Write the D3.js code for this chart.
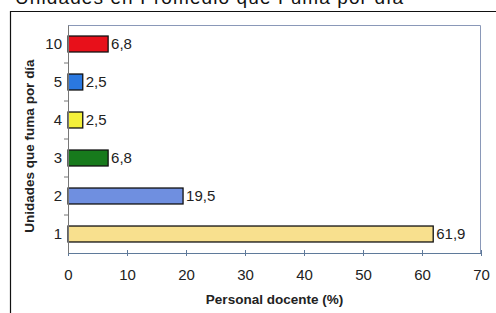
<!DOCTYPE html>
<html>
<head>
<meta charset="utf-8">
<script src="https://cdn.jsdelivr.net/npm/d3@7"></script>
<style>
  body { margin: 0; background: #fff; }
  text { font-family: Arial, "Liberation Sans", sans-serif; }
</style>
</head>
<body>
<div id="chart"></div>
<script>
// Chart data
var categories = ["10", "5", "4", "3", "2", "1"];
var values = [6.8, 2.5, 2.5, 6.8, 19.5, 61.9];
var valueLabels = ["6,8", "2,5", "2,5", "6,8", "19,5", "61,9"];
var barColors = ["#e8101a", "#2a78e0", "#f4f03a", "#177a1c", "#6f8fe0", "#f8e08e"];
var xTicks = [0, 10, 20, 30, 40, 50, 60, 70];

var svgWidth = 496;
var svgHeight = 313;
var margin = { top: 25, right: 15, bottom: 60, left: 68 };
var width = svgWidth - margin.left - margin.right;
var height = svgHeight - margin.top - margin.bottom;

var svg = d3.select("#chart")
    .append("svg")
    .attr("width", svgWidth)
    .attr("height", svgHeight);

// outer frame (top + left line)
svg.append("path")
    .attr("d", "M10.5,313 V11.5 H496")
    .attr("fill", "none")
    .attr("stroke", "#111")
    .attr("stroke-width", 1.2);

// cut-off title at top
svg.append("text")
    .attr("x", 15)
    .attr("y", 4)
    .attr("font-size", 19)
    .attr("fill", "#111")
    .attr("textLength", 388)
    .text("Unidades en Promedio que Fuma por día");

var chart = svg.append("g")
    .attr("transform", `translate(${margin.left}, ${margin.top})`);

var xScale = d3.scaleLinear().domain([0, 70]).range([0, width]);
var yScale = d3.scaleBand().domain(categories).range([0, height]).paddingInner(0.58).paddingOuter(0.29);

// plot area border (top + right)
chart.append("path")
    .attr("d", `M0,0.5 H${width - 0.5} V${height}`)
    .attr("fill", "none")
    .attr("stroke", "#8a98b8")
    .attr("stroke-width", 1);

// bars
chart.selectAll("rect.bar")
    .data(values)
    .enter()
    .append("rect")
    .attr("class", "bar")
    .attr("x", 0)
    .attr("y", (d, i) => yScale(categories[i]))
    .attr("width", d => xScale(d))
    .attr("height", yScale.bandwidth())
    .attr("fill", (d, i) => barColors[i])
    .attr("stroke", "#111")
    .attr("stroke-width", 1.3);

// value labels
chart.selectAll("text.val")
    .data(values)
    .enter()
    .append("text")
    .attr("class", "val")
    .attr("x", d => xScale(d) + 3)
    .attr("y", (d, i) => yScale(categories[i]) + yScale.bandwidth() / 2)
    .attr("dy", "0.36em")
    .attr("font-size", 15)
    .attr("fill", "#222")
    .text((d, i) => valueLabels[i]);

// x axis
var xAxis = d3.axisBottom(xScale).tickValues(xTicks).tickSize(3).tickSizeOuter(0);
var gx = chart.append("g")
    .attr("transform", `translate(0, ${height})`)
    .call(xAxis);
gx.select(".domain").attr("stroke", "#5f7a9a");
gx.selectAll(".tick line").attr("stroke", "#5f7a9a").attr("y1", -3).attr("y2", 3);
gx.selectAll(".tick text")
    .attr("y", 16)
    .attr("font-size", 15)
    .attr("fill", "#222")
    .attr("font-family", "Arial, 'Liberation Sans', sans-serif");

// y axis
var yAxis = d3.axisLeft(yScale).tickSize(0).tickPadding(6);
var gy = chart.append("g").call(yAxis);
gy.select(".domain").attr("stroke", "#777");
gy.selectAll(".tick text")
    .attr("font-size", 15)
    .attr("fill", "#222")
    .attr("font-family", "Arial, 'Liberation Sans', sans-serif");

// small ticks between categories on the y axis
var step = yScale.step();
var boundaries = categories.slice(0, categories.length - 1).map((c, i) => yScale(c) + yScale.bandwidth() + (step - yScale.bandwidth()) / 2);
chart.selectAll("line.ytick")
    .data(boundaries)
    .enter()
    .append("line")
    .attr("class", "ytick")
    .attr("x1", -4)
    .attr("x2", 0)
    .attr("y1", d => d)
    .attr("y2", d => d)
    .attr("stroke", "#777");

// axis titles
chart.append("text")
    .attr("transform", "rotate(-90)")
    .attr("x", -121)
    .attr("y", -34)
    .attr("text-anchor", "middle")
    .attr("font-size", 13.5)
    .attr("font-weight", "bold")
    .attr("fill", "#222")
    .text("Unidades que fuma por día");

chart.append("text")
    .attr("x", width / 2)
    .attr("y", height + 51)
    .attr("text-anchor", "middle")
    .attr("font-size", 13.5)
    .attr("font-weight", "bold")
    .attr("fill", "#222")
    .text("Personal docente (%)");
</script>
</body>
</html>
